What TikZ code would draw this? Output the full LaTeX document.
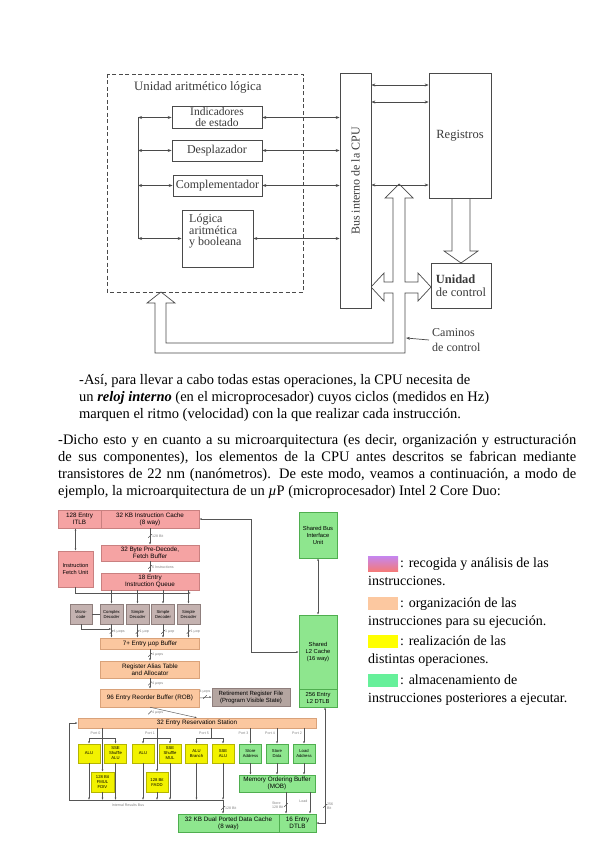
\documentclass[tikz,border=0pt]{standalone}
\usepackage{fontspec}
\setmainfont{Liberation Serif}
\newfontfamily\arialf{Liberation Sans}
\usetikzlibrary{positioning,arrows.meta}

\definecolor{scangray}{HTML}{4A4A4A}
\definecolor{scantext}{HTML}{3A3A3A}
\definecolor{pinkfill}{HTML}{F5A3A3}
\definecolor{pinkline}{HTML}{C98080}
\definecolor{peachfill}{HTML}{FBC79F}
\definecolor{peachline}{HTML}{D9A27A}
\definecolor{mauvefill}{HTML}{C4B2B0}
\definecolor{mauveline}{HTML}{8F7F7D}
\definecolor{rrffill}{HTML}{B4A5A0}
\definecolor{yelfill}{HTML}{F2F200}
\definecolor{yelline}{HTML}{B5B500}
\definecolor{grnfill}{HTML}{8EE68E}
\definecolor{grnline}{HTML}{4FAE4F}
\definecolor{linegray}{HTML}{555555}
\definecolor{lblgray}{HTML}{808080}
\definecolor{legpurple}{HTML}{C586F0}
\definecolor{legred}{HTML}{F47A7A}
\definecolor{legpeach}{HTML}{FCC8A0}
\definecolor{legyellow}{HTML}{FFFF00}
\definecolor{leggreen}{HTML}{66F09A}

\tikzset{
  scanline/.style={draw=scangray, line width=0.7pt},
  scanbox/.style={draw=scangray, line width=0.7pt, fill=white, text=scantext,
    font=\fontsize{12}{10}\selectfont, align=center, inner sep=0pt},
  scantxt/.style={text=scantext, font=\fontsize{12}{10}\selectfont, inner sep=0pt},
  scanarr/.style={scanline, {Stealth[length=4pt,width=3pt]}-{Stealth[length=4pt,width=3pt]}},
  hollow/.style={draw=scangray, line width=0.7pt, fill=white, line join=miter},
  ptext/.style={font=\fontsize{14.5}{17}\selectfont, inner sep=0pt, anchor=base west},
  legtxt/.style={font=\fontsize{14}{17}\selectfont, inner sep=0pt, anchor=base west},
  ubox/.style={draw, line width=0.5pt, font=\arialf\fontsize{6.3}{7.2}\selectfont,
    align=center, inner sep=0pt},
  fetch/.style={ubox, draw=pinkline, fill=pinkfill},
  order/.style={ubox, draw=peachline, fill=peachfill},
  decode/.style={ubox, draw=mauveline, fill=mauvefill,
    font=\arialf\fontsize{4.2}{5}\selectfont, minimum width=23, minimum height=20},
  exec/.style={ubox, draw=yelline, fill=yelfill,
    font=\arialf\fontsize{4.2}{5}\selectfont, minimum width=22, minimum height=19},
  memop/.style={exec, draw=grnline, fill=grnfill},
  store/.style={ubox, draw=grnline, fill=grnfill},
  conn/.style={draw=linegray, line width=0.45pt, >={Latex[length=2.3pt,width=1.8pt]}},
  lbl/.style={text=lblgray, font=\arialf\fontsize{3.6}{4.2}\selectfont, inner sep=0.5pt, align=left},
}

% bus width mark: position, label
\newcommand{\wtick}[3][right=1.5pt]{%
  \draw[conn] #2 ++(-1.8,1.8) -- ++(3.6,-3.6);
  \node[lbl,#1] at #2 {#3};}

\begin{document}
\begin{tikzpicture}[x=1pt,y=-1pt]
    \useasboundingbox (0,0) rectangle (599,848);
    % hollow arrows
    \draw[hollow] (452,198)--(452,251)--(444,251)--(461,263)--(478,251)--(470,251)--(470,198);
    \draw[hollow] (405,353)--(155,353)--(155,303)--(147,303)--(161,292)--(175,303)--(166,303)
        --(166,343)--(393,343)--(393,293)--(384,293)--(384,301)--(371,287)--(384,273)
        --(384,282)--(393,282)--(393,198)--(385,198)--(399,184)--(413,198)--(405,198)
        --(405,282)--(418,282)--(418,273)--(431,287)--(418,301)--(418,293)--(405,293)--cycle;
    % unidad aritmetico logica
    \draw[scanline, dash pattern=on 4pt off 2.5pt] (107,74) rectangle (303,292);
    \node[scantxt, anchor=west, font=\fontsize{12.8}{10}\selectfont] (alutitle) at (134,87) {Unidad aritmético lógica};
    \node[scanbox, minimum width=90, minimum height=22, font=\fontsize{11.5}{11}\selectfont] (ind) at (217,117.5) {Indicadores\\de estado};
    \node[scanbox, minimum width=90, minimum height=21] (desp) at (217,150.5) {Desplazador};
    \node[scanbox, minimum width=89, minimum height=21] (comp) at (217.5,185.5) {Complementador};
    \node[scanbox, minimum width=71, minimum height=57] (log) at (217.5,238.5) {};
    \node[scantxt, anchor=north west, align=left, font=\fontsize{12}{11.5}\selectfont] (logtxt)
        at (189,214) {Lógica\\aritmética\\y booleana};
    \node[scanbox, minimum width=31, minimum height=235] (bus) at (355.5,190.5) {};
    \node[scantxt, rotate=90] (bustxt) at (355.5,181) {Bus interno de la CPU};
    \node[scanbox, minimum width=62, minimum height=125, font=\fontsize{12.5}{10}\selectfont] (reg) at (460,135.5) {Registros};
    \node[scanbox, minimum width=60, minimum height=45, align=left, font=\fontsize{12.5}{10}\selectfont] (uc) at (461,285.5)
        {\textbf{Unidad}\\[3pt]de control};
    \node[scantxt, anchor=west, align=left, font=\fontsize{12}{15}\selectfont] (cam) at (432,340) {Caminos\\de control};
    \coordinate (lbar) at (138,117);
    \draw[scanline] (lbar) -- (lbar |- log.west);
    \foreach \b in {ind,desp,comp,log}{
        \draw[scanarr] (lbar |- \b.west) -- (\b.west);
        \draw[scanarr] (\b.east) -- (\b.east -| bus.west);
    }
    \draw[scanarr] (bus.east |- 0,85) -- (reg.west |- 0,85);
    \draw[scanarr] (bus.east |- 0,102) -- (reg.west |- 0,102);
    \draw[scanarr] (bus.east |- 0,185) -- (reg.west |- 0,185);
    \coordinate (stemR) at (406,338);
    \draw[scanline, -{Stealth[length=4pt,width=3pt]}] ([xshift=-3pt]cam.west) -- (stemR);

    % texto
    \node[ptext] (p1a) at (79,384) {-Así, para llevar a cabo todas estas operaciones, la CPU necesita de};
    \node[ptext] (p1b) at (79,401) {un \textbf{\textit{reloj interno}} (en el microprocesador) cuyos ciclos (medidos en Hz)};
    \node[ptext] (p1c) at (79,418) {marquen el ritmo (velocidad) con la que realizar cada instrucción.};
    \node[ptext] (p2a) at (58,444) {\makebox[518pt][s]{-Dicho esto y en cuanto a su microarquitectura (es decir, organización y estructuración}};
    \node[ptext] (p2b) at (58,461) {\makebox[518pt][s]{de sus componentes), los elementos de la CPU antes descritos se fabrican mediante}};
    \node[ptext] (p2c) at (58,478) {\makebox[518pt][s]{transistores de 22 nm (nanómetros). De este modo, veamos a continuación, a modo de}};
    \node[ptext] (p2d) at (58,495) {ejemplo, la microarquitectura de un \textit{µ}P (microprocesador) Intel 2 Core Duo:};

    % microarquitectura
    \node[fetch, minimum width=43, minimum height=18] (itlb) at (79.5,519) {128 Entry\\ITLB};
    \node[fetch, minimum width=98, minimum height=18] (icache) at (150,519) {32 KB Instruction Cache\\(8 way)};
    \node[fetch, minimum width=98, minimum height=16] (pdec) at (150,553) {32 Byte Pre-Decode,\\Fetch Buffer};
    \node[fetch, minimum width=98, minimum height=17] (iq) at (150,581.5) {18 Entry\\Instruction Queue};
    \node[fetch, minimum width=35, minimum height=36, font=\arialf\fontsize{5.6}{6.6}\selectfont] (ifu) at (75.5,569) {Instruction\\Fetch Unit};
    \node[decode, minimum width=22] (mcode) at (81,614) {Micro-\\code};
    \node[decode] (cdec) at (111.5,614) {Complex\\Decoder};
    \node[decode] (sd1) at (137.5,614) {Simple\\Decoder};
    \node[decode] (sd2) at (163,614) {Simple\\Decoder};
    \node[decode] (sd3) at (188.5,614) {Simple\\Decoder};
    \node[order, minimum width=99, minimum height=11] (uopbuf) at (150,643.5) {7+ Entry µop Buffer};
    \node[order, minimum width=99, minimum height=17] (rat) at (150,669.5) {Register Alias Table\\and Allocator};
    \node[order, minimum width=99, minimum height=18] (rob) at (150,698) {96 Entry Reorder Buffer (ROB)};
    \node[ubox, draw=mauveline, fill=rrffill, minimum width=78, minimum height=18, font=\arialf\fontsize{6}{7}\selectfont] (rrf) at (251,697) {Retirement Register File\\(Program Visible State)};
    \node[store, minimum width=38, minimum height=46, font=\arialf\fontsize{5.8}{7}\selectfont] (biu) at (318,535) {Shared Bus\\Interface\\Unit};
    \node[store, minimum width=38, minimum height=74, font=\arialf\fontsize{5.8}{7}\selectfont] (l2) at (318,652) {Shared\\L2 Cache\\(16 way)};
    \node[store, minimum width=38, minimum height=18, font=\arialf\fontsize{5.8}{7}\selectfont] (l2dtlb) at (318,698) {256 Entry\\L2 DTLB};
    \node[order, minimum width=238, minimum height=10] (rs) at (197,723) {32 Entry Reservation Station};
    \node[exec] (alu0) at (89,753.5) {ALU};
    \node[exec] (sseA) at (115.5,753.5) {SSE\\Shuffle\\ALU};
    \node[exec] (alu1) at (143,753.5) {ALU};
    \node[exec] (sseM) at (170,753.5) {SSE\\Shuffle\\MUL};
    \node[exec] (alub) at (196.5,753.5) {ALU\\Branch};
    \node[exec] (sseALU) at (223,753.5) {SSE\\ALU};
    \node[memop] (stA) at (250.5,753.5) {Store\\Address};
    \node[memop] (stD) at (277,753.5) {Store\\Data};
    \node[memop] (ldA) at (304,753.5) {Load\\Address};
    \node[exec, minimum width=23, minimum height=20] (fmul) at (102.5,782) {128 Bit\\FMUL\\FDIV};
    \node[exec, minimum height=20] (fadd) at (157,782) {128 Bit\\FADD};
    \node[store, minimum width=76, minimum height=17] (mob) at (277,783.5) {Memory Ordering Buffer\\(MOB)};
    \node[store, minimum width=101, minimum height=18] (dcache) at (228.5,823) {32 KB Dual Ported Data Cache\\(8 way)};
    \node[store, minimum width=37, minimum height=18] (dtlb) at (297.5,823) {16 Entry\\DTLB};

    % conexiones
    \draw[conn,->] (icache.south) -- (pdec.north);
    \wtick{(150,536)}{128 Bit}
    \draw[conn,->] (pdec.south) -- (iq.north);
    \wtick{(150,567)}{6 Instructions}
    \draw[conn,<->] (ifu.north) -- (ifu.north |- itlb.south);
    \draw[conn,<->] (l2.west) -- ++(-48,0) |- (icache.east);
    \draw[conn,<->] (biu.south) -- (l2.north);
    \foreach \d in {cdec,sd1,sd2,sd3}
        \draw[conn,->] (iq.south -| \d.north) -- (\d.north);
    \coordinate (ifuend) at (191,593);
    \draw[conn,->] (ifu.south) |- (ifuend);
    \draw[conn] (mcode.east) -- (cdec.west);
    \draw[conn,->] (mcode.south) |- (cdec.south |- 0,629);
    \foreach \d in {cdec,sd1,sd2,sd3}
        \draw[conn,->] (\d.south) -- (\d.south |- uopbuf.north);
    \wtick{(111.5,632)}{4 µops}
    \wtick{(137.5,632)}{1 µop}
    \wtick{(163,632)}{1 µop}
    \wtick{(188.5,632)}{1 µop}
    \draw[conn,->] (uopbuf.south) -- (rat.north);
    \wtick{(150,655)}{4 µops}
    \draw[conn,->] (rat.south) -- (rob.north);
    \wtick{(150,683.5)}{4 µops}
    \draw[conn,->] (rob.south) -- (rs.north);
    \wtick{(150,712.5)}{4 µops}
    \draw[conn,->] (rob.east) -- (rrf.west);
    \wtick[above=3pt]{(205,697)}{4 µops}
    \draw[conn,<->] ([xshift=7pt]l2dtlb.south) |- (dtlb.east);
    \wtick{(325,806)}{256\\Bit}
    % puertos
    \coordinate (p0) at (fmul.north |- 0,738);
    \coordinate (p1) at (fadd.north |- 0,738);
    \coordinate (p5) at (211,738);
    \draw[conn,->] (rs.south -| fmul.north) -- (fmul.north);
    \draw[conn,->] (p0) -| (alu0.north);
    \draw[conn,->] (p0) -| (sseA.north);
    \draw[conn,->] (rs.south -| fadd.north) -- (fadd.north);
    \draw[conn,->] (p1) -| (alu1.north);
    \draw[conn,->] (p1) -| (sseM.north);
    \draw[conn] (rs.south -| p5) -- (p5);
    \draw[conn,->] (p5) -| (alub.north);
    \draw[conn,->] (p5) -| (sseALU.north);
    \foreach \u in {stA,stD,ldA}
        \draw[conn,->] (rs.south -| \u.north) -- (\u.north);
    \node[lbl, anchor=east] at (101,733) {Port 0};
    \node[lbl, anchor=east] at (155.5,733) {Port 1};
    \node[lbl, anchor=east] at (209.5,733) {Port 5};
    \node[lbl, anchor=east] at (249,733) {Port 3};
    \node[lbl, anchor=east] at (275.5,733) {Port 4};
    \node[lbl, anchor=east] at (302.5,733) {Port 2};
    % internal results bus
    \coordinate (busR) at (sseALU.south |- 0,800);
    \coordinate (busL) at (69,800);
    \draw[conn,->] (busR) -- (busL) |- (rs.west);
    \foreach \u in {alu0,sseA,alu1,sseM,alub,sseALU,fmul,fadd}
        \draw[conn,->] (\u.south) -- (\u.south |- busL);
    \node[lbl] at (128,805) {Internal Results Bus};
    \draw[conn,->] (busR) -- (busR |- dcache.north);
    \wtick{(223,808)}{128 Bit}
    \foreach \u in {stA,stD,ldA}
        \draw[conn,->] (\u.south) -- (\u.south |- mob.north);
    \coordinate (stpath) at (286,792);
    \coordinate (ldpath) at (310,792);
    \draw[conn,->] (mob.south -| stpath) -- (dtlb.north -| stpath);
    \draw[conn,->] (mob.south -| ldpath) -- (dtlb.north -| ldpath);
    \wtick[left=2pt]{(286,805)}{Store\\128 Bit}
    \node[lbl, anchor=east] at (308,801) {Load};

    % leyenda
    \shade[top color=legpurple, bottom color=legred] (368,556) rectangle (398,571);
    \fill[legpeach] (368,597) rectangle (398,610);
    \fill[legyellow] (368,635) rectangle (398,648);
    \fill[leggreen] (368,674) rectangle (398,687);
    \node[legtxt] (lg1a) at (400,567) {: recogida y análisis de las};
    \node[legtxt] (lg1b) at (368,585) {instrucciones.};
    \node[legtxt] (lg2a) at (400,607) {: organización de las};
    \node[legtxt] (lg2b) at (368,625) {instrucciones para su ejecución.};
    \node[legtxt] (lg3a) at (400,645) {: realización de las};
    \node[legtxt] (lg3b) at (368,663) {distintas operaciones.};
    \node[legtxt] (lg4a) at (400,684) {: almacenamiento de};
    \node[legtxt] (lg4b) at (368,702) {instrucciones posteriores a ejecutar.};
\end{tikzpicture}
\end{document}
